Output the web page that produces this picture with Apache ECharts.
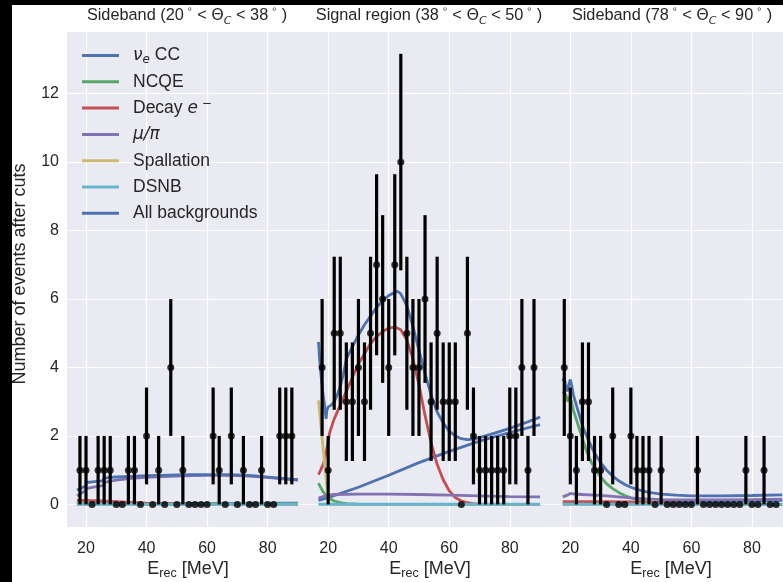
<!DOCTYPE html>
<html><head><meta charset="utf-8">
<script src="https://cdn.jsdelivr.net/npm/echarts@6/dist/echarts.min.js"></script>
<style>html,body{margin:0;padding:0;background:#000;} #c{width:783px;height:582px;}</style>
</head><body><div id="c"></div>
<script>
// ---------- data ----------
const binCenters = [18,20,22,24,26,28,30,32,34,36,38,40,42,44,46,48,50,52,54,56,58,60,62,64,66,68,70,72,74,76,78,80,82,84,86,88];
const countsSidebandLow  = [1,1,0,1,1,1,0,0,1,1,0,2,0,1,0,4,0,1,0,0,0,0,2,1,0,2,0,1,0,0,1,0,0,2,2,2];
const countsSignal       = [4,1,5,5,3,3,4,3,5,7,6,4,7,10,5,4,4,6,3,5,3,3,3,0,5,2,1,1,1,1,1,2,2,4,1,4];
const countsSidebandHigh = [4,2,1,3,3,1,1,0,2,0,0,2,1,1,1,0,1,0,0,0,0,0,1,0,0,0,0,0,0,0,1,0,0,1,0,0];

const xTickValues = [20,40,60,80];
const yTickValues = [0,2,4,6,8,10,12];

// model curves per panel: [E_rec, events]
const nueCC = [
  [[17,0.02],[40,0.03],[60,0.03],[90,0.04]],
  [[16.8,0.12],[20,0.2],[30,0.5],[40,0.85],[50,1.22],[60,1.55],[70,1.85],[80,2.1],[90,2.33]],
  [[17.5,0.02],[40,0.04],[60,0.07],[90,0.12]]
];
const ncqe = [
  [[17,0.04],[30,0.03],[60,0.02],[90,0.02]],
  [[16.8,0.62],[17.5,0.5],[18.5,0.35],[19.5,0.25],[20.5,0.17],[22,0.1],[24,0.05],[26,0.02],[30,0.01],[90,0.0]],
  [[17.5,3.3],[18.5,3.2],[19.2,3.0],[19.8,3.15],[20.3,3.05],[21,2.75],[22,2.48],[23,2.2],[24,1.92],[25,1.65],[26,1.42],[27,1.22],[28,1.06],[30,0.8],[32,0.6],[34,0.46],[36,0.35],[38,0.26],[40,0.19],[42,0.14],[44,0.1],[46,0.07],[50,0.03],[60,0.01],[90,0.0]]
];
const decayE = [
  [[17,0.12],[20,0.12],[25,0.1],[30,0.08],[35,0.06],[40,0.04],[50,0.02],[60,0.01],[70,0.0],[90,0.0]],
  [[16.8,0.87],[17.5,1.0],[18.5,1.2],[19.5,1.6],[20.5,2.1],[22,2.5],[24,2.9],[26,3.3],[28,3.7],[30,4.1],[32,4.4],[34,4.7],[36,4.9],[38,5.05],[40,5.15],[42,5.18],[44,5.1],[46,4.8],[48,4.25],[50,3.5],[52,2.6],[54,1.8],[56,1.17],[58,0.72],[60,0.4],[62,0.2],[64,0.1],[66,0.05],[68,0.02],[72,0.0],[90,0.0]],
  [[17.5,0.08],[30,0.08],[40,0.07],[50,0.05],[60,0.03],[70,0.01],[90,0.0]]
];
const muPi = [
  [[17,0.25],[18,0.3],[19,0.36],[19.9,0.4],[20.1,0.46],[22,0.5],[25.5,0.55],[26,0.64],[28,0.68],[30,0.71],[35,0.76],[40,0.79],[45,0.81],[50,0.83],[55,0.84],[60,0.85],[65,0.85],[70,0.84],[75,0.82],[80,0.79],[85,0.75],[90,0.71]],
  [[16.8,0.18],[18,0.22],[20,0.27],[22,0.29],[30,0.3],[40,0.3],[50,0.29],[60,0.27],[70,0.25],[80,0.23],[90,0.22]],
  [[17.5,0.22],[19,0.27],[20,0.32],[21,0.31],[24,0.29],[28,0.27],[32,0.25],[36,0.22],[40,0.19],[45,0.16],[50,0.14],[60,0.13],[70,0.13],[80,0.14],[90,0.15]]
];
const spallation = [
  [[17,0.0],[90,0.0]],
  [[16.8,3.04],[17.5,2.4],[18.5,1.5],[19.5,0.6],[20.1,0.05],[21,0.0],[90,0.0]],
  [[17.5,0.0],[90,0.0]]
];
const dsnb = [
  [[17,0.005],[90,0.005]],
  [[16.8,0.005],[90,0.005]],
  [[17.5,0.005],[90,0.005]]
];
const allBackgrounds = [
  [[17,0.42],[18,0.46],[19,0.5],[19.9,0.54],[20.1,0.64],[22,0.66],[25.5,0.69],[26,0.77],[28,0.79],[30,0.8],[35,0.82],[40,0.84],[45,0.85],[50,0.86],[55,0.87],[60,0.87],[65,0.87],[70,0.86],[75,0.84],[80,0.8],[85,0.76],[90,0.72]],
  [[16.8,4.75],[17.2,4.2],[17.6,3.8],[18.2,3.3],[18.8,2.9],[19.3,2.5],[19.6,2.75],[20,2.85],[20.5,2.8],[21,2.9],[22,3.0],[23,3.2],[24,3.45],[25,3.8],[26,4.25],[28,4.6],[30,4.95],[32,5.25],[34,5.5],[36,5.75],[38,5.95],[40,6.1],[42,6.2],[43,6.22],[44,6.15],[46,5.8],[48,5.2],[50,4.5],[52,3.83],[54,3.2],[56,2.7],[58,2.38],[60,2.14],[62,2.0],[64,1.92],[66,1.89],[68,1.91],[70,1.95],[75,2.08],[80,2.22],[85,2.38],[90,2.55]],
  [[17.5,3.6],[18,3.7],[18.5,3.45],[19,3.3],[19.5,3.5],[20,3.65],[20.5,3.45],[21,3.2],[22,2.9],[23,2.6],[24,2.3],[25,2.08],[26,1.88],[27,1.68],[28,1.5],[30,1.22],[32,1.0],[34,0.83],[36,0.69],[38,0.58],[40,0.5],[42,0.44],[44,0.39],[46,0.35],[50,0.3],[55,0.27],[60,0.25],[70,0.25],[80,0.26],[90,0.28]]
];

// ---------- layout ----------
const panelOffset = [0, 80, 160];
const FONT = '"Liberation Sans", Arial, sans-serif';
const MATH = '"DejaVu Sans", sans-serif';
const TXT = '#262626';

const components = [
  {key:'nue',   label:'{m|ν}{s|e}{n| CC}', color:'#4C72B0', data:nueCC},
  {key:'ncqe',  label:'{n|NCQE}',           color:'#55A868', data:ncqe},
  {key:'decay', label:'{n|Decay }{m|e}{u| −}', color:'#C44E52', data:decayE},
  {key:'mupi',  label:'{m|μ/π}',            color:'#8172B2', data:muPi},
  {key:'spall', label:'{n|Spallation}',     color:'#CCB974', data:spallation},
  {key:'dsnb',  label:'{n|DSNB}',           color:'#64B5CD', data:dsnb},
  {key:'all',   label:'{n|All backgrounds}',color:'#4C72B0', data:allBackgrounds}
];

const series = [];
components.forEach(c => {
  c.data.forEach((pts, p) => {
    series.push({
      type:'line', name:c.key, showSymbol:false, symbol:'none', smooth:false,
      color:c.color, lineStyle:{color:c.color, width:2.8},
      data: pts.map(([x,y]) => [x + panelOffset[p], y]),
      z: 2, animation:false, silent:true
    });
  });
});

const allCounts = [countsSidebandLow, countsSignal, countsSidebandHigh];
const pointData = [];
allCounts.forEach((cnts, p) => {
  cnts.forEach((n, i) => pointData.push([binCenters[i] + panelOffset[p], n, Math.sqrt(n)]));
});

series.push({
  type:'custom', name:'errors', z:5, animation:false, silent:true,
  data: pointData,
  renderItem: (params, api) => {
    const x = api.value(0), y = api.value(1), e = api.value(2);
    if (!e) return null;
    const a = api.coord([x, y + e]), b = api.coord([x, y - e]);
    return {type:'line', shape:{x1:a[0], y1:a[1], x2:b[0], y2:b[1]}, style:{stroke:'#000', lineWidth:3.2}};
  },
  encode:{x:0, y:1}
});
series.push({
  type:'scatter', name:'data', z:6, animation:false, silent:true,
  symbol:'circle', symbolSize:7, itemStyle:{color:'#000'},
  data: pointData.map(d => [d[0], d[1]])
});

const xCustom = [];
panelOffset.forEach(o => xTickValues.forEach(t => xCustom.push(t + o)));
function localLabel(v) {
  let o = 0;
  panelOffset.forEach(off => { if (v - off >= xTickValues[0]) o = off; });
  return String(v - o);
}

const titleTexts = ['Sideband (', 'Signal region (', 'Sideband ('];
const titleBounds = [['20','38'],['38','50'],['78','90']];
const titleCenters = [187, 429, 672];
const xlabelCenters = [188, 430, 671];

const graphics = [
  {type:'rect', shape:{x:0,y:0,width:12,height:582}, style:{fill:'#000'}, z:100},
  {type:'rect', shape:{x:0,y:0,width:783,height:5}, style:{fill:'#000'}, z:100}
];
const titleRich = {
  n:{fontFamily:FONT, fontSize:16.3, fill:TXT, lineHeight:22},
  g:{fontFamily:MATH, fontSize:16, fill:TXT, lineHeight:22},
  s:{fontFamily:MATH, fontStyle:'italic', fontSize:11, fill:TXT, lineHeight:22, verticalAlign:'bottom'},
  d:{fontFamily:MATH, fontSize:9.5, fill:TXT, lineHeight:22, verticalAlign:'top'}
};
titleCenters.forEach((cx, i) => {
  graphics.push({
    type:'text', x:cx, y:16, z:50,
    style:{
      text:'{n|' + titleTexts[i] + titleBounds[i][0] + '}{d| ∘}{n| < }{g|Θ}{s|C}{n| < ' + titleBounds[i][1] + '}{d| ∘}{n| )}',
      align:'center', verticalAlign:'middle', rich:titleRich
    }
  });
});
const xRich = {
  n:{fontFamily:FONT, fontSize:18, fill:TXT, lineHeight:22},
  s:{fontFamily:FONT, fontSize:12.5, fill:TXT, lineHeight:22, verticalAlign:'bottom'}
};
xlabelCenters.forEach(cx => {
  graphics.push({
    type:'text', x:cx, y:569, z:50,
    style:{text:'{n|E}{s|rec}{n| [MeV]}', align:'center', verticalAlign:'middle', rich:xRich}
  });
});
graphics.push({
  type:'text', x:20, y:274, rotation:Math.PI/2, z:50,
  style:{text:'Number of events after cuts', align:'center', verticalAlign:'middle',
         fontFamily:FONT, fontSize:18, fill:TXT}
});

const legendRich = {
  n:{fontFamily:FONT, fontSize:17.5, color:TXT, lineHeight:20},
  m:{fontFamily:MATH, fontStyle:'italic', fontSize:17, color:TXT, lineHeight:20},
  s:{fontFamily:MATH, fontStyle:'italic', fontSize:12, color:TXT, lineHeight:20, verticalAlign:'bottom'},
  u:{fontFamily:MATH, fontSize:12, color:TXT, lineHeight:20, verticalAlign:'top'}
};
const labelMap = {};
components.forEach(c => labelMap[c.key] = c.label);

const option = {
  backgroundColor:'#ffffff',
  animation:false,
  grid:{left:67, right:0, top:32, bottom:55, show:true, backgroundColor:'#EAEAF2', borderWidth:0},
  xAxis:{
    type:'value', min:13.72, max:250.26,
    axisLine:{show:false},
    axisTick:{show:false, customValues:xCustom},
    axisLabel:{customValues:xCustom, formatter:localLabel, fontFamily:FONT, fontSize:16, color:TXT, margin:14},
    splitLine:{show:true, lineStyle:{color:'#ffffff', width:1.2}}
  },
  yAxis:{
    type:'value', min:-0.66, max:13.8,
    axisLine:{show:false},
    axisTick:{show:false, customValues:yTickValues},
    axisLabel:{customValues:yTickValues, fontFamily:FONT, fontSize:16, color:TXT, margin:8},
    splitLine:{show:true, lineStyle:{color:'#ffffff', width:1.2}}
  },
  legend:{
    show:true, orient:'vertical', left:82, top:45.5, padding:0, itemGap:6.3,
    itemWidth:37, itemHeight:3, icon:'rect',
    data: components.map(c => c.key),
    formatter: name => labelMap[name],
    textStyle:{fontFamily:FONT, fontSize:17.5, color:TXT, lineHeight:20, padding:[0,0,0,9], rich:legendRich},
    selectedMode:false
  },
  graphic: graphics,
  series: series
};

const chart = echarts.init(document.getElementById('c'), null, {renderer:'canvas'});
chart.setOption(option);
</script>
</body></html>
